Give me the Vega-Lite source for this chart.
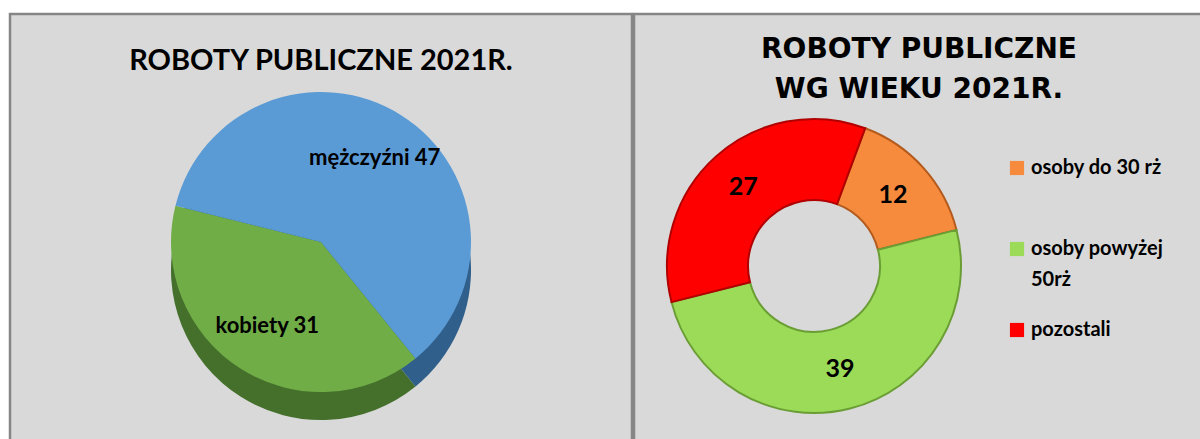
{
  "$schema": "https://vega.github.io/schema/vega-lite/v6.json",
  "background": "white",
  "padding": {"left": 8, "top": 12, "right": 0, "bottom": 0},
  "spacing": -3,
  "config": {
    "view": {"fill": "#d9d9d9", "stroke": "#868686", "strokeWidth": 2.5},
    "font": "Lato"
  },
  "hconcat": [
    {
      "width": 622,
      "height": 456,
      "view": {"fill": "#d9d9d9", "stroke": "#868686", "strokeWidth": 2.5},
      "title": {
        "text": "ROBOTY PUBLICZNE 2021R.",
        "offset": -62,
        "fontSize": 29,
        "font": "Lato",
        "fontWeight": "bold",
        "color": "#000000",
        "anchor": "middle"
      },
      "data": {
        "values": [
          {"plec": "kobiety", "liczba": 31, "kolejnosc": 1, "etykieta": "kobiety 31"},
          {"plec": "mężczyźni", "liczba": 47, "kolejnosc": 2, "etykieta": "mężczyźni 47"}
        ]
      },
      "encoding": {
        "theta": {"field": "liczba", "type": "quantitative", "stack": true, "scale": {"range": [2.46, 8.743]}},
        "order": {"field": "kolejnosc", "type": "quantitative"}
      },
      "layer": [
        {
          "mark": {"type": "arc", "outerRadius": 150, "yOffset": 28},
          "encoding": {
            "color": {"field": "plec", "type": "nominal", "scale": {"domain": ["kobiety", "mężczyźni"], "range": ["#44702c", "#2f5f8a"]}, "legend": null}
          }
        },
        {
          "mark": {"type": "arc", "outerRadius": 150},
          "encoding": {
            "color": {"field": "plec", "type": "nominal", "scale": {"domain": ["kobiety", "mężczyźni"], "range": ["#70ad47", "#5b9bd5"]}, "legend": null}
          }
        },
        {
          "mark": {"type": "text", "radius": 100, "fontSize": 22, "fontWeight": "bold", "font": "Lato", "color": "#000000"},
          "encoding": {"text": {"field": "etykieta", "type": "nominal"}}
        }
      ],
      "resolve": {"scale": {"color": "independent"}}
    },
    {
      "width": 570,
      "height": 504,
      "view": {"fill": "#d9d9d9", "stroke": "#868686", "strokeWidth": 2.5},
      "title": {
        "text": ["ROBOTY PUBLICZNE", "WG WIEKU 2021R."],
        "offset": -90,
        "lineHeight": 40,
        "fontSize": 28,
        "font": "DejaVu Sans",
        "fontWeight": "bold",
        "color": "#000000",
        "anchor": "middle"
      },
      "data": {
        "values": [
          {"grupa": "osoby do 30 rż", "liczba": 12, "kolejnosc": 1},
          {"grupa": "osoby powyżej 50rż", "liczba": 39, "kolejnosc": 2},
          {"grupa": "pozostali", "liczba": 27, "kolejnosc": 3}
        ]
      },
      "encoding": {
        "theta": {"field": "liczba", "type": "quantitative", "stack": true, "scale": {"range": [0.356, 6.639]}},
        "order": {"field": "kolejnosc", "type": "quantitative"}
      },
      "layer": [
        {
          "mark": {"type": "arc", "outerRadius": 147, "innerRadius": 66, "x": 180, "strokeWidth": 2},
          "encoding": {
            "color": {
              "field": "grupa",
              "type": "nominal",
              "scale": {"domain": ["osoby do 30 rż", "osoby powyżej 50rż", "pozostali"], "range": ["#f68b3e", "#9bdb58", "#ff0000"]},
              "legend": {
                "orient": "none",
                "legendX": 997,
                "legendY": 144,
                "title": null,
                "symbolType": "square",
                "symbolSize": 200,
                "symbolStrokeWidth": 0,
                "labelFontSize": 20,
                "labelFont": "Lato",
                "labelFontWeight": "bold",
                "labelColor": "#000000",
                "labelLimit": 300,
                "gridAlign": "all",
                "rowPadding": 30,
                "labelExpr": "datum.label == 'osoby powyżej 50rż' ? ['osoby powyżej', '50rż'] : datum.label",
                "encode": {"labels": {"update": {"lineHeight": {"value": 31}}}}
              }
            },
            "stroke": {
              "field": "grupa",
              "type": "nominal",
              "scale": {"domain": ["osoby do 30 rż", "osoby powyżej 50rż", "pozostali"], "range": ["#b35a1c", "#6a9e35", "#b00000"]},
              "legend": null
            }
          }
        },
        {
          "mark": {"type": "text", "radius": 106, "x": 180, "fontSize": 25, "fontWeight": "bold", "font": "Lato", "color": "#000000"},
          "encoding": {"text": {"field": "liczba", "type": "quantitative"}}
        }
      ],
      "resolve": {"scale": {"stroke": "independent"}}
    }
  ]
}
